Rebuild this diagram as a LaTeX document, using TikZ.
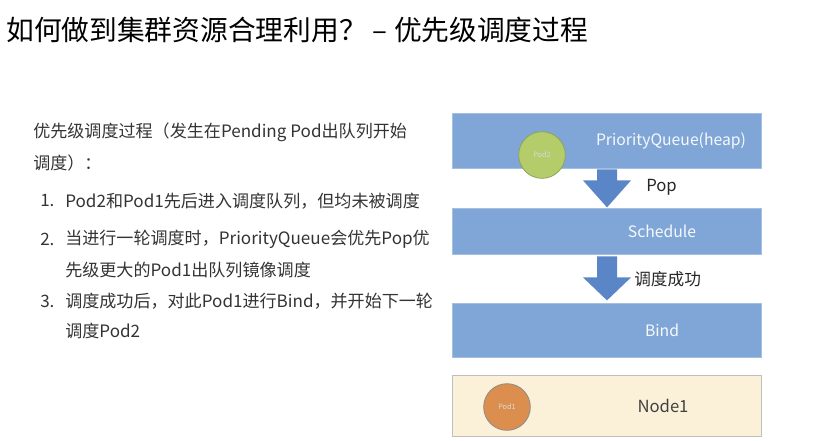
\documentclass[tikz,border=0pt]{standalone}
\usepackage{fontspec}
\setmainfont{Noto Sans CJK SC}
\usepackage{xcolor}
\usetikzlibrary{positioning}
\definecolor{boxblue}{HTML}{7FA6D6}
\definecolor{boxline}{HTML}{A3BFE2}
\definecolor{arrowblue}{HTML}{5A86C7}
\definecolor{podgreen}{HTML}{B4CC6A}
\definecolor{podorange}{HTML}{DB8E4E}
\definecolor{nodecream}{HTML}{FBF1D8}
\definecolor{bodygray}{HTML}{333333}
\newcommand{\bodysize}{\fontsize{12.8pt}{15pt}\selectfont}

\begin{document}
\begin{tikzpicture}[x=0.75pt,y=-0.75pt]
\tikzstyle{every node}=[inner sep=0pt]
\tikzstyle{stage}=[draw=boxline, fill=boxblue, minimum width=231.75pt, line width=0.6pt]
\tikzstyle{stagetext}=[text=white!93!boxblue, font=\fontsize{11.8pt}{14pt}\selectfont]
\tikzstyle{pod}=[circle, minimum size=35pt, line width=0.6pt, text=white!85!black, font=\fontsize{5.5pt}{6pt}\selectfont]
\tikzstyle{line}=[anchor=west, text=bodygray, font=\bodysize]
\useasboundingbox (0,0) rectangle (813,440);
% title
\node[anchor=west, font=\fontsize{20.8pt}{24pt}\selectfont] (title) at (6,30) {如何做到集群资源合理利用？ – 优先级调度过程};
% left text
\node[line] (intro) at (33,132) {优先级调度过程（发生在Pending Pod出队列开始};
\node[line] (intro2) at (33,163) {调度）：};
\node[line] (n1) at (40,201) {1.};
\node[line] (t1) at (65,201) {Pod2和Pod1先后进入调度队列，但均未被调度};
\node[line] (n2) at (40,239) {2.};
\node[line] (t2) at (65,239) {当进行一轮调度时，PriorityQueue会优先Pop优};
\node[line] (t2b) at (65,270) {先级更大的Pod1出队列镜像调度};
\node[line] (n3) at (40,301) {3.};
\node[line] (t3) at (65,301) {调度成功后，对此Pod1进行Bind，并开始下一轮};
\node[line] (t3b) at (65,331) {调度Pod2};
% stages
\node[stage, minimum height=41.25pt] (pq) at (606.5,140.5) {};
\node[stagetext] at (671,141) {PriorityQueue(heap)};
\node[pod, draw=podgreen!80!black, fill=podgreen] (pod2) at (542,155) {Pod2};
\node[stage, minimum height=34.5pt] (sched) at (606.5,231) {};
\node[stagetext] at (662,231) {Schedule};
\node[stage, minimum height=40.5pt] (bind) at (606.5,330) {};
\node[stagetext] at (662,330) {Bind};
\node[draw=black!25, fill=nodecream, minimum width=231.75pt, minimum height=45.75pt, line width=0.6pt] (node1) at (606.5,405.5) {};
\node[text=black!75, font=\fontsize{12.5pt}{14pt}\selectfont] at (663,406) {Node1};
\node[pod, draw=black!45, fill=podorange] (pod1) at (507,407) {Pod1};
% block arrows
\fill[arrowblue, shift={(607,0 |- pq.south)}] (-10,1) -- (10,1) -- (10,12) -- (24,12) -- (0,39) -- (-24,12) -- (-10,12) -- cycle;
\node[anchor=west, text=black!85, font=\fontsize{12.5pt}{14pt}\selectfont] (poplbl) at (646,187) {Pop};
\fill[arrowblue, shift={(607,0 |- sched.south)}] (-10,2) -- (10,2) -- (10,23) -- (24,23) -- (0,46) -- (-24,23) -- (-10,23) -- cycle;
\node[anchor=west, text=black!85, font=\fontsize{12.5pt}{14pt}\selectfont] (oklbl) at (634,279) {调度成功};
\end{tikzpicture}
\end{document}
